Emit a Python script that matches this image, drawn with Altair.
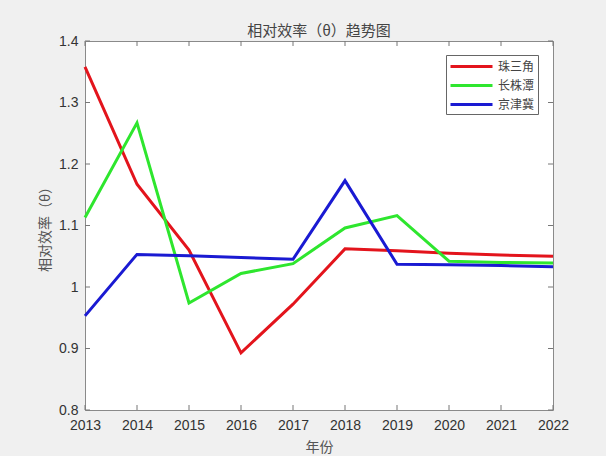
import altair as alt
import pandas as pd

years = [2013, 2014, 2015, 2016, 2017, 2018, 2019, 2020, 2021, 2022]
series_names = ["珠三角", "长株潭", "京津冀"]
prd = [1.358, 1.167, 1.060, 0.893, 0.972, 1.062, 1.059, 1.055, 1.052, 1.050]
czt = [1.113, 1.267, 0.974, 1.022, 1.038, 1.096, 1.116, 1.042, 1.040, 1.039]
jjj = [0.953, 1.053, 1.051, 1.048, 1.045, 1.173, 1.037, 1.036, 1.035, 1.033]
colors = ["#e3141c", "#2ee62e", "#1a1ad2"]
y_ticks = [0.8, 0.9, 1.0, 1.1, 1.2, 1.3, 1.4]

W, H = 468, 369
rows = []
for name, vals in zip(series_names, [prd, czt, jjj]):
    for yr, v in zip(years, vals):
        rows.append({"year": yr, "value": v, "series": name})
df = pd.DataFrame(rows)
xt = pd.DataFrame({"year": years})
yt = pd.DataFrame({"value": y_ticks})

xscale = alt.Scale(domain=[2013, 2022], nice=False, zero=False)
yscale = alt.Scale(domain=[0.8, 1.4], nice=False, zero=False)

xaxis = alt.Axis(title="年份", values=years, format="d", ticks=False,
                 domain=False, grid=False, labelPadding=8,
                 labelFlush=False, labelOverlap=False, labelBound=False,
                 labelFont="Liberation Sans", labelFontSize=14,
                 labelColor="#333", titleFont="Noto Sans CJK SC",
                 titleFontSize=14, titleFontWeight="normal",
                 titleColor="#555", titlePadding=8)
yaxis = alt.Axis(title="相对效率（θ）", values=y_ticks, format="~g",
                 ticks=False, domain=False, grid=False, labelPadding=7,
                 labelFlush=False, labelOverlap=False, labelBound=False,
                 labelFont="Liberation Sans", labelFontSize=14,
                 labelColor="#333", titleFont="Noto Sans CJK SC",
                 titleFontSize=14, titleFontWeight="normal",
                 titleColor="#555", titlePadding=6)

lines = alt.Chart(df).mark_line(strokeWidth=3).encode(
    x=alt.X("year:Q", scale=xscale, axis=xaxis),
    y=alt.Y("value:Q", scale=yscale, axis=yaxis),
    color=alt.Color("series:N",
                    scale=alt.Scale(domain=series_names, range=colors),
                    sort=series_names,
                    legend=alt.Legend(orient="none", legendX=361, legendY=14,
                                      title=None, symbolType="M-1,0H5",
                                      symbolSize=196, symbolStrokeWidth=3,
                                      labelFont="Noto Sans CJK SC",
                                      labelFontSize=12, labelColor="#444",
                                      strokeColor="#666", fillColor="white",
                                      padding=3, rowPadding=4, labelOffset=32)),
)

tick_style = dict(color="#777", strokeWidth=1)
xb = alt.Chart(xt).mark_rule(**tick_style).encode(
    x=alt.X("year:Q", scale=xscale, axis=xaxis),
    y=alt.value(H), y2=alt.value(H - 5))
xtop = alt.Chart(xt).mark_rule(**tick_style).encode(
    x=alt.X("year:Q", scale=xscale, axis=xaxis),
    y=alt.value(0), y2=alt.value(5))
yl = alt.Chart(yt).mark_rule(**tick_style).encode(
    y=alt.Y("value:Q", scale=yscale, axis=yaxis),
    x=alt.value(0), x2=alt.value(5))
yr_ = alt.Chart(yt).mark_rule(**tick_style).encode(
    y=alt.Y("value:Q", scale=yscale, axis=yaxis),
    x=alt.value(W - 5), x2=alt.value(W))

chart = alt.layer(lines, xb, xtop, yl, yr_).properties(
    width=W, height=H,
    title=alt.TitleParams("相对效率（θ）趋势图", font="Noto Sans CJK SC",
                          fontSize=15, fontWeight="normal", color="#444",
                          anchor="middle", offset=-5),
    autosize=alt.AutoSizeParams(type="none"),
    padding={"left": 85, "top": 41, "right": 53, "bottom": 46},
    background="#f0f0f0",
).configure_view(stroke="#8a8a8a", strokeWidth=1, fill="white")

chart.save("out.html", embed_options={"renderer": "svg", "actions": False})
